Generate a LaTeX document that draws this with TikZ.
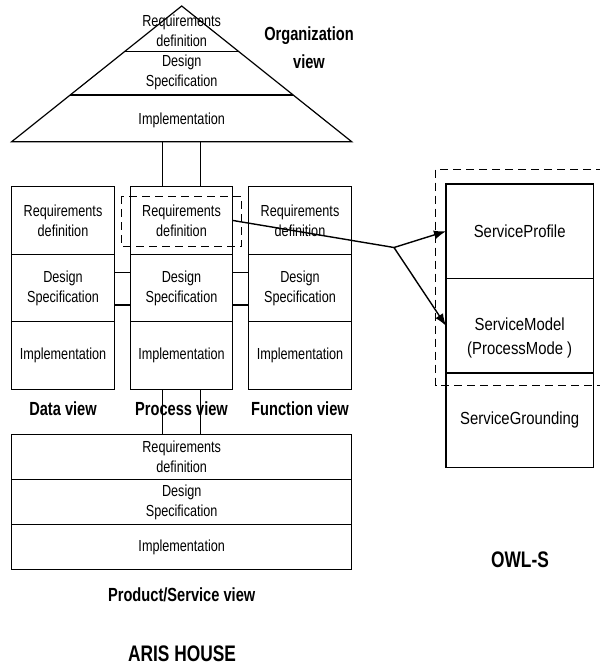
\documentclass[tikz,border=0pt]{standalone}
\usepackage{fontspec}
\setmainfont{Liberation Sans}
\newfontfamily\cellfont{Liberation Sans}[FakeStretch=0.79]
\newfontfamily\headfont{Liberation Sans}[FakeStretch=0.77]
\newfontfamily\owlfont{Liberation Sans}[FakeStretch=0.85]
\usetikzlibrary{positioning,calc,arrows.meta}

\begin{document}
\begin{tikzpicture}[
        x=1pt, y=-1pt,
        line width=1.2pt,
        node distance=0pt,
        cell/.style={rectangle, draw, outer sep=0pt, inner sep=0pt,
            minimum width=102.5pt,
            minimum height=67.5pt,
            align=center, font=\cellfont\fontsize{16}{20}\selectfont},
        wide/.style={cell, minimum width=340pt, minimum height=45pt},
        owl/.style={rectangle, draw, outer sep=0pt, inner sep=0pt,
            minimum width=147.5pt,
            minimum height=94.5pt,
            align=center, font=\owlfont\fontsize{17.5}{24}\selectfont},
        owltxt/.style={inner sep=0pt, align=center, font=\owlfont\fontsize{17.5}{24}\selectfont},
        txt/.style={inner sep=0pt, align=center, font=\cellfont\fontsize{16}{20}\selectfont},
        lbl/.style={inner sep=0pt, align=center, font=\headfont\bfseries\fontsize{19}{28}\selectfont},
        big/.style={inner sep=0pt, font=\headfont\bfseries\fontsize{22.5}{25}\selectfont},
        frame/.style={line width=1pt, dash pattern=on 8pt off 5pt},
        link/.style={line width=1.4pt, -{Latex[length=12pt, width=9pt]}}
    ]
        \useasboundingbox (0,0) rectangle (600,667);

        % organization view (roof)
        \coordinate (apex) at (181.7,6);
        \coordinate (bl) at (11.7,141.7);
        \coordinate (br) at (351.7,141.7);
        \draw (apex) -- (bl) -- (br) -- cycle;
        \draw ($(apex)!0.337!(bl)$) -- ($(apex)!0.337!(br)$);
        \draw ($(apex)!0.656!(bl)$) -- ($(apex)!0.656!(br)$);
        \node[txt] (or1) at (181.7,30.8) {Requirements\\definition};
        \node[txt] (or2) at (181.7,72.5) {Design\\Specification};
        \node[txt] (or3) at (181.7,120) {Implementation};
        \node[lbl] (org) at (309,47.5) {Organization\\view};

        % data, process and function views
        \node[cell, anchor=north] (dv1) at (63,186.7) {Requirements\\definition};
        \node[cell, below=of dv1] (dv2) {Design\\Specification};
        \node[cell, below=of dv2] (dv3) {Implementation};
        \node[cell, right=16pt of dv1] (pr1) {Requirements\\definition};
        \node[cell, below=of pr1] (pr2) {Design\\Specification};
        \node[cell, below=of pr2] (pr3) {Implementation};
        \node[cell, right=16pt of pr1] (fv1) {Requirements\\definition};
        \node[cell, below=of fv1] (fv2) {Design\\Specification};
        \node[cell, below=of fv2] (fv3) {Implementation};
        \node[lbl] (dvl) at ($(dv3.south)+(0,19.3)$) {Data view};
        \node[lbl] (prl) at ($(pr3.south)+(0,19.3)$) {Process view};
        \node[lbl] (fvl) at ($(fv3.south)+(0,19.3)$) {Function view};

        % product/service view
        \node[wide, anchor=north] (ps1) at (181.7,434.5) {Requirements\\definition};
        \node[wide, below=of ps1] (ps2) {Design\\Specification};
        \node[wide, below=of ps2] (ps3) {Implementation};
        \node[lbl] (psl) at ($(ps3.south)+(0,25.5)$) {Product/Service view};
        \node[big] (aris) at (182,654) {ARIS HOUSE};

        % posts
        \coordinate (pa) at ($(pr1.north)+(-19.2,0)$);
        \coordinate (pb) at ($(pr1.north)+(19.2,0)$);
        \coordinate (pc) at ($(pr3.south)+(-19.2,0)$);
        \coordinate (pd) at ($(pr3.south)+(19.2,0)$);
        \draw (pa) -- (pa |- bl);
        \draw (pb) -- (pb |- bl);
        \draw (pc) -- (pc |- ps1.north);
        \draw (pd) -- (pd |- ps1.north);
        \foreach \dy in {-15.3,17} {
            \draw ($(dv2.east)+(0,\dy)$) -- ($(pr2.west)+(0,\dy)$);
            \draw ($(pr2.east)+(0,\dy)$) -- ($(fv2.west)+(0,\dy)$);
        }
        \draw[frame] ($(pr1.north west)+(-8.3,9.3)$) rectangle ($(pr1.south east)+(8.3,-7.3)$);

        % OWL-S
        \node[owl, anchor=north] (ow1) at (519.7,184) {ServiceProfile};
        \node[owl, below=of ow1] (ow2) {};
        \node[owl, below=of ow2] (ow3) {ServiceGrounding};
        \node[owltxt] (ow2t) at ($(ow2.center)+(0,12)$) {ServiceModel\\(ProcessMode )};
        \node[big] (owl) at (520,560) {OWL-S};
        \coordinate (fa) at ($(ow1.north west)+(-10.3,-15)$);
        \coordinate (fb) at ($(ow3.north west)+(-10.3,12)$);
        \draw[frame] (604,0 |- fa) -- (fa) -- (fb) -- (604,0 |- fb);

        % mapping
        \coordinate (fork) at (394,247.5);
        \draw[line width=1.4pt] (pr1.east) -- (fork);
        \draw[link] (fork) -- (ow1.west);
        \draw[link] (fork) -- (ow2.west);
    \end{tikzpicture}
\end{document}
